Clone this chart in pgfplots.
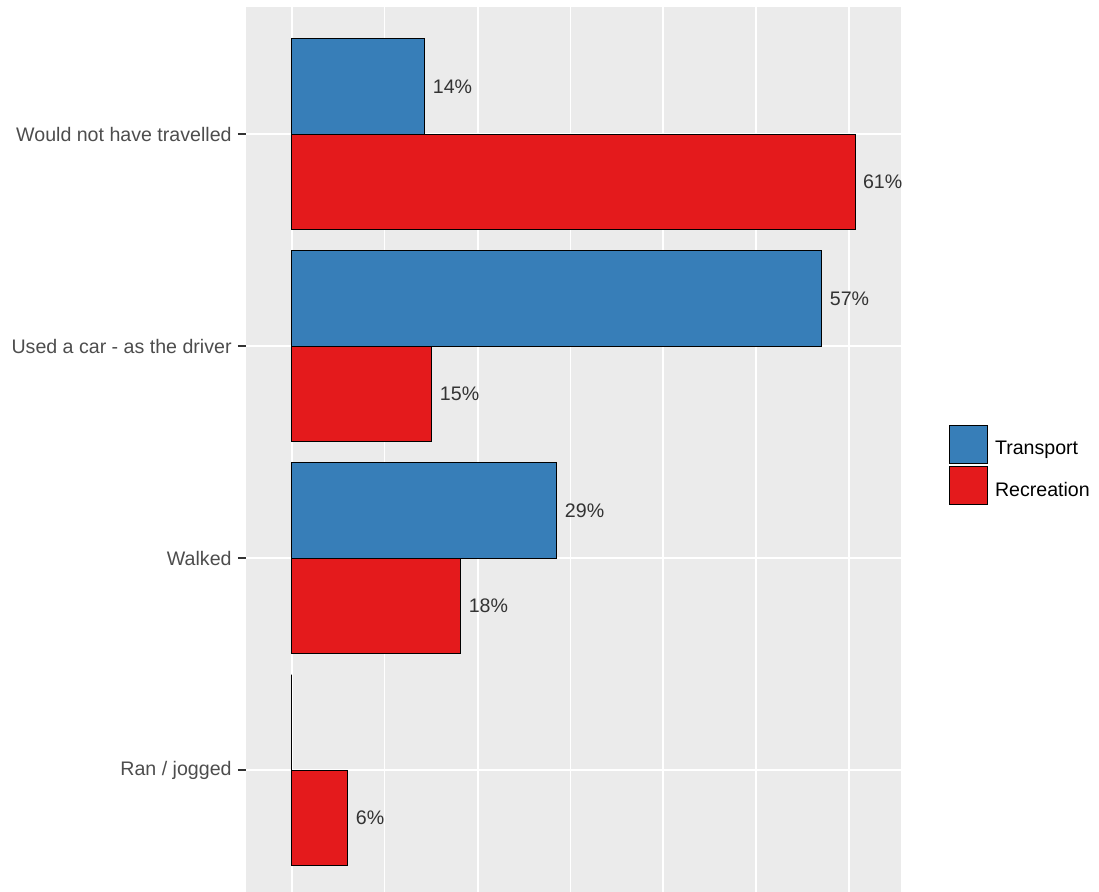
\documentclass[border=0pt]{standalone}
\usepackage{fontspec}
\setmainfont{Liberation Sans}
\usepackage{pgfplots}
\pgfplotsset{compat=1.18}
\definecolor{tblue}{HTML}{377EB8}
\definecolor{rred}{HTML}{E41A1C}
\definecolor{panel}{HTML}{EBEBEB}
\definecolor{g30}{HTML}{4D4D4D}
\definecolor{g20}{HTML}{333333}
\newcommand{\ff}{\fontsize{9.8}{11.8}\selectfont}
\begin{document}
\begin{tikzpicture}
\useasboundingbox (0,0) rectangle (549.5pt,446pt);
\begin{axis}[
  at={(123pt,0pt)}, anchor=south west,
  width=327.75pt, height=442.5pt, scale only axis,
  xmin=-4.95, xmax=65.68, ymin=0.425, ymax=4.6,
  axis line style={draw=none},
  axis background/.style={fill=panel},
  xtick={0,20,40,60}, minor xtick={10,30,50}, xticklabels={},
  xmajorgrids, xminorgrids, ymajorgrids,
  major grid style={white, line width=1pt},
  minor grid style={white, line width=0.6pt},
  ytick={1,2,3,4},
  yticklabels={Ran / jogged, Walked, Used a car - as the driver, Would not have travelled},
  tick align=outside,
  major tick length=4pt,
  x tick style={draw=none},
  minor x tick style={draw=none},
  y tick style={g20, line width=1pt},
  ytick pos=left,
  yticklabel style={font=\ff, text=g30, inner sep=0pt, xshift=-3pt},
  bar width=0.45,
  point meta=explicit symbolic,
  nodes near coords,
  nodes near coords style={anchor=west, inner sep=0pt, xshift=3.75pt, text=g20, font=\ff},
  legend style={at={(1.0725,0.4825)}, anchor=west, draw=none, fill=none, font=\ff,
    inner sep=0pt, outer sep=0pt, row sep=1pt, column sep=3.5pt, nodes={inner sep=0pt, yshift=-2.5pt}, legend cell align=left},
  legend image code/.code={\draw[#1,draw=black,line width=0.5pt] (0pt,-9.5pt) rectangle (19pt,9.5pt);},
]
\addplot[xbar, bar shift=0.225, fill=tblue, draw=black, line width=0.5pt,
  every node near coord/.append style={yshift=23.85pt}]
  coordinates {(14.33,4) [14\%] (57.1,3) [57\%] (28.56,2) [29\%] (0,1) []};
\addplot[xbar, bar shift=-0.225, fill=rred, draw=black, line width=0.5pt,
  every node near coord/.append style={yshift=-23.85pt}]
  coordinates {(60.67,4) [61\%] (15.09,3) [15\%] (18.2,2) [18\%] (6.03,1) [6\%]};
\legend{Transport, Recreation}
\end{axis}
\end{tikzpicture}
\end{document}
